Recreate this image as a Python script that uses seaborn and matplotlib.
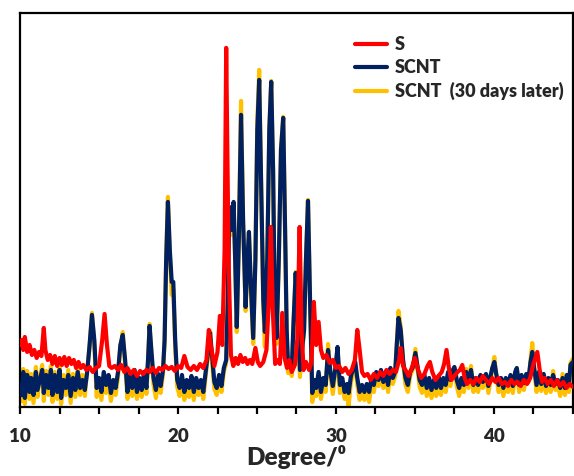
import matplotlib
matplotlib.use("Agg")
import matplotlib.pyplot as plt
from matplotlib.ticker import MultipleLocator, NullLocator
from matplotlib.lines import Line2D
import seaborn as sns
import pandas as pd

# ---- XRD patterns (2-theta in degrees, intensity in a.u.) ----
deg_s = [10.0, 10.1, 10.2, 10.3, 10.45, 10.6, 10.75, 10.9, 11.05, 11.2, 11.35, 11.5, 11.6, 11.75,
         11.9, 12.05, 12.2, 12.35, 12.5, 12.65, 12.8, 12.95, 13.1, 13.25, 13.4, 13.55, 13.7, 13.85,
         14.0, 14.2, 14.4, 14.6, 14.8, 15.0, 15.2, 15.35, 15.5, 15.65, 15.8, 16.0, 16.2, 16.4, 16.6,
         16.8, 17.0, 17.2, 17.4, 17.6, 17.8, 18.0, 18.2, 18.4, 18.6, 18.8, 19.0, 19.2, 19.4, 19.6,
         19.8, 20.0, 20.2, 20.4, 20.6, 20.8, 21.0, 21.2, 21.4, 21.6, 21.8, 21.95, 22.1, 22.3, 22.5,
         22.65, 22.8, 22.95, 23.05, 23.2, 23.35, 23.5, 23.65, 23.8, 23.95, 24.1, 24.25, 24.4, 24.55,
         24.7, 24.9, 25.05, 25.2, 25.4, 25.6, 25.75, 25.88, 26.0, 26.15, 26.3, 26.45, 26.6, 26.75,
         26.9, 27.05, 27.2, 27.4, 27.55, 27.7, 27.82, 27.95, 28.1, 28.3, 28.45, 28.6, 28.75, 28.9,
         29.05, 29.2, 29.4, 29.6, 29.8, 30.0, 30.2, 30.4, 30.6, 30.8, 31.0, 31.2, 31.35, 31.5, 31.65,
         31.8, 32.0, 32.2, 32.4, 32.6, 32.8, 33.0, 33.2, 33.4, 33.6, 33.8, 34.0, 34.1, 34.25, 34.4,
         34.6, 34.8, 35.0, 35.2, 35.4, 35.6, 35.8, 35.95, 36.1, 36.3, 36.5, 36.7, 36.85, 37.0, 37.15,
         37.3, 37.5, 37.7, 37.85, 38.0, 38.15, 38.3, 38.5, 38.7, 38.9, 39.1, 39.3, 39.5, 39.7, 39.9,
         40.1, 40.3, 40.5, 40.7, 40.9, 41.1, 41.3, 41.5, 41.7, 41.9, 42.1, 42.3, 42.5, 42.75, 42.9,
         43.05, 43.2, 43.4, 43.6, 43.8, 44.0, 44.2, 44.4, 44.6, 44.8, 45.0]
int_s = [62, 67, 57, 70, 55, 62, 52, 57, 49, 55, 51, 79, 57, 47,
         52, 43, 51, 41, 49, 42, 50, 41, 49, 43, 47, 39, 45, 39,
         42, 37, 40, 35, 39, 41, 67, 93, 62, 41, 39, 41, 37, 42, 35,
         39, 33, 37, 31, 36, 33, 37, 35, 39, 34, 39, 37, 41, 38, 40,
         36, 41, 39, 51, 40, 37, 41, 37, 43, 39, 47, 77, 59, 41, 55,
         91, 62, 157, 359, 147, 52, 41, 49, 43, 52, 45, 49, 43, 47,
         43, 59, 45, 41, 45, 57, 107, 180, 97, 43, 47, 43, 94, 49,
         39, 47, 35, 42, 67, 180, 77, 37, 45, 37, 45, 105, 62, 85,
         57, 49, 52, 44, 47, 39, 41, 35, 39, 33, 37, 47, 77, 57, 35,
         31, 33, 27, 33, 29, 35, 31, 37, 33, 37, 35, 47, 59, 41, 37,
         31, 39, 49, 37, 29, 33, 41, 45, 35, 27, 31, 35, 43, 57, 39,
         27, 31, 35, 37, 42, 29, 23, 27, 23, 29, 25, 31, 27, 23, 29,
         25, 29, 23, 25, 21, 27, 23, 25, 21, 27, 23, 29, 43, 55, 37,
         25, 29, 23, 27, 21, 27, 21, 25, 19, 23, 20]

deg_scnt = [10.0, 10.1, 10.2, 10.3, 10.45, 10.6, 10.7, 10.85, 11.0, 11.1, 11.25, 11.4, 11.5, 11.65,
            11.8, 11.95, 12.05, 12.2, 12.35, 12.5, 12.6, 12.75, 12.9, 13.05, 13.2, 13.35, 13.5, 13.65,
            13.8, 13.95, 14.1, 14.25, 14.4, 14.55, 14.7, 14.85, 15.0, 15.15, 15.3, 15.45, 15.6, 15.75,
            15.9, 16.05, 16.2, 16.35, 16.5, 16.65, 16.8, 16.95, 17.1, 17.25, 17.4, 17.55, 17.7, 17.85,
            18.0, 18.1, 18.2, 18.32, 18.45, 18.6, 18.75, 18.9, 19.05, 19.15, 19.25, 19.36, 19.48, 19.6,
            19.7, 19.82, 19.95, 20.1, 20.25, 20.4, 20.55, 20.7, 20.85, 21.0, 21.15, 21.3, 21.45, 21.6,
            21.75, 21.9, 22.03, 22.15, 22.3, 22.45, 22.6, 22.75, 22.9, 23.05, 23.15, 23.25, 23.38, 23.52,
            23.62, 23.72, 23.85, 23.99, 24.12, 24.28, 24.4, 24.49, 24.6, 24.76, 24.9, 25.02, 25.14, 25.28,
            25.4, 25.5, 25.65, 25.78, 25.9, 26.02, 26.12, 26.24, 26.38, 26.52, 26.66, 26.78, 26.88, 26.97,
            27.1, 27.2, 27.32, 27.45, 27.58, 27.72, 27.85, 27.98, 28.1, 28.23, 28.36, 28.5, 28.62, 28.75,
            28.9, 29.05, 29.2, 29.35, 29.5, 29.65, 29.8, 29.95, 30.1, 30.25, 30.4, 30.55, 30.7, 30.8,
            30.95, 31.1, 31.22, 31.35, 31.5, 31.65, 31.8, 31.95, 32.1, 32.25, 32.4, 32.55, 32.7, 32.85,
            33.0, 33.15, 33.3, 33.45, 33.6, 33.75, 33.85, 33.96, 34.1, 34.25, 34.4, 34.55, 34.7, 34.85,
            35.03, 35.15, 35.3, 35.45, 35.6, 35.75, 35.9, 36.05, 36.2, 36.35, 36.5, 36.65, 36.8, 36.95,
            37.1, 37.25, 37.4, 37.5, 37.65, 37.8, 37.95, 38.1, 38.25, 38.4, 38.55, 38.7, 38.85, 39.0,
            39.15, 39.3, 39.5, 39.65, 39.8, 39.9, 40.03, 40.15, 40.3, 40.45, 40.6, 40.75, 40.9, 41.05,
            41.2, 41.35, 41.45, 41.6, 41.75, 41.9, 42.05, 42.2, 42.32, 42.43, 42.55, 42.7, 42.85, 43.0,
            43.15, 43.3, 43.45, 43.6, 43.75, 43.9, 44.05, 44.2, 44.35, 44.5, 44.62, 44.75, 44.85, 45.0]
int_scnt = [22, 12, 35, 9, 32, 15, 29, 12, 35, 17, 27, 37, 14, 32,
            19, 37, 12, 32, 15, 37, 9, 27, 19, 32, 11, 29, 17, 35,
            19, 27, 17, 35, 62, 92, 67, 19, 29, 15, 35, 22, 32, 14,
            27, 19, 35, 62, 72, 47, 15, 31, 19, 37, 15, 29, 17, 35,
            19, 47, 81, 55, 29, 17, 33, 21, 37, 67, 147, 205, 157, 125,
            125, 67, 27, 19, 32, 15, 27, 19, 31, 15, 29, 19, 27, 15,
            35, 55, 74, 52, 25, 19, 32, 21, 39, 47, 107, 200, 177, 205,
            147, 80, 167, 292, 187, 100, 147, 175, 127, 69, 147, 277, 327, 207,
            107, 75, 147, 277, 325, 237, 107, 69, 147, 257, 289, 177, 77, 40,
            47, 37, 87, 134, 87, 37, 57, 77, 147, 206, 107, 14, 27, 19,
            35, 15, 29, 22, 57, 35, 21, 37, 60, 22, 29, 15, 23, 14,
            31, 39, 45, 29, 15, 22, 15, 23, 15, 29, 22, 35, 27, 37,
            25, 35, 22, 39, 29, 35, 62, 89, 77, 47, 29, 22, 35, 39,
            54, 42, 27, 22, 32, 19, 29, 17, 27, 19, 31, 19, 29, 22,
            35, 27, 37, 40, 27, 19, 29, 22, 35, 25, 37, 22, 29, 22,
            32, 25, 33, 21, 32, 39, 45, 33, 22, 29, 19, 29, 22, 32,
            21, 35, 39, 22, 32, 24, 33, 29, 45, 55, 39, 22, 35, 23,
            33, 21, 29, 22, 32, 23, 27, 19, 29, 19, 32, 22, 42, 45]
int_scnt_30d = [30, 6, 38, 3, 36, 8, 33, 4, 40, 10, 30, 42, 6, 36,
                12, 41, 5, 35, 8, 40, 3, 32, 12, 37, 4, 33, 10, 40,
                12, 32, 11, 38, 60, 94, 62, 10, 26, 7, 30, 14, 28, 6,
                22, 12, 30, 60, 75, 42, 8, 27, 11, 33, 8, 25, 10, 31,
                13, 45, 83, 50, 22, 9, 28, 14, 33, 65, 150, 210, 150, 112,
                118, 60, 20, 11, 27, 7, 22, 10, 26, 7, 24, 12, 22, 8,
                31, 52, 76, 46, 18, 12, 28, 15, 35, 44, 104, 198, 172, 203,
                143, 75, 170, 306, 185, 96, 145, 174, 122, 63, 150, 285, 337, 205,
                100, 60, 145, 278, 326, 235, 102, 63, 145, 258, 290, 175, 72, 34,
                42, 31, 85, 135, 84, 30, 54, 75, 146, 207, 104, 5, 20, 11,
                30, 8, 24, 15, 63, 32, 13, 33, 58, 14, 23, 8, 15, 1,
                25, 35, 43, 22, 7, 14, 7, 15, 5, 23, 15, 31, 21, 34,
                19, 31, 15, 36, 23, 31, 62, 96, 80, 44, 22, 15, 31, 37,
                58, 40, 20, 14, 27, 11, 24, 9, 21, 11, 26, 12, 24, 15,
                31, 21, 34, 39, 21, 11, 24, 15, 38, 19, 41, 15, 24, 15,
                28, 19, 30, 14, 28, 38, 50, 31, 15, 24, 11, 24, 15, 28,
                14, 32, 37, 15, 28, 17, 30, 25, 47, 64, 38, 15, 32, 16,
                30, 14, 24, 15, 36, 17, 22, 11, 33, 12, 30, 15, 44, 48]

series_labels = ["S", "SCNT", "SCNT  (30 days later)"]
series_colors = ["#FF0000", "#002060", "#FFC000"]

df_s = pd.DataFrame({"deg": deg_s, "intensity": int_s})
df_scnt = pd.DataFrame({"deg": deg_scnt, "intensity": int_scnt})
df_30d = pd.DataFrame({"deg": deg_scnt, "intensity": int_scnt_30d})

sns.set_theme(style="white")
plt.rcParams["font.family"] = ["Lato", "DejaVu Sans"]
plt.rcParams["font.weight"] = "bold"

fig = plt.figure(figsize=(5.74, 4.76), dpi=100)
ax = fig.add_axes([0.035, 0.145, 0.963, 0.828])

lw = 3.0
sns.lineplot(data=df_30d, x="deg", y="intensity", color=series_colors[2], lw=lw,
             estimator=None, sort=False, ax=ax, zorder=2)
sns.lineplot(data=df_scnt, x="deg", y="intensity", color=series_colors[1], lw=lw,
             estimator=None, sort=False, ax=ax, zorder=3)
sns.lineplot(data=df_s, x="deg", y="intensity", color=series_colors[0], lw=lw,
             estimator=None, sort=False, ax=ax, zorder=4)

ax.set_xlim(10, 45)
ax.set_ylim(0, 394)

for side in ["left", "right", "top", "bottom"]:
    ax.spines[side].set_visible(True)
    ax.spines[side].set_color("black")
    ax.spines[side].set_linewidth(1.6)

ax.xaxis.set_major_locator(MultipleLocator(10))
ax.xaxis.set_minor_locator(MultipleLocator(2.5))
ax.yaxis.set_major_locator(NullLocator())
ax.tick_params(axis="x", which="both", direction="out", length=5, width=1.6,
               color="black", bottom=True, top=False)
ax.tick_params(axis="x", which="major", labelsize=13.5, pad=10)
ax.set_xticks([10, 20, 30, 40])
ax.set_xticklabels(["10", "20", "30", "40"], fontweight="heavy", fontsize=13.5)

ax.set_xlabel("Degree/⁰", fontsize=17.5, fontweight="heavy", labelpad=0)
ax.set_ylabel("")

handles = [Line2D([0], [0], color=c, lw=lw) for c in series_colors]
ax.legend(handles, series_labels, loc="upper left", bbox_to_anchor=(0.606, 0.94),
          frameon=False, borderpad=0, borderaxespad=0, handlelength=1.75,
          handletextpad=0.45, labelspacing=0.32,
          prop={"family": ["Lato", "DejaVu Sans"], "weight": "heavy", "size": 13})

fig.savefig("out.png", dpi=100)
